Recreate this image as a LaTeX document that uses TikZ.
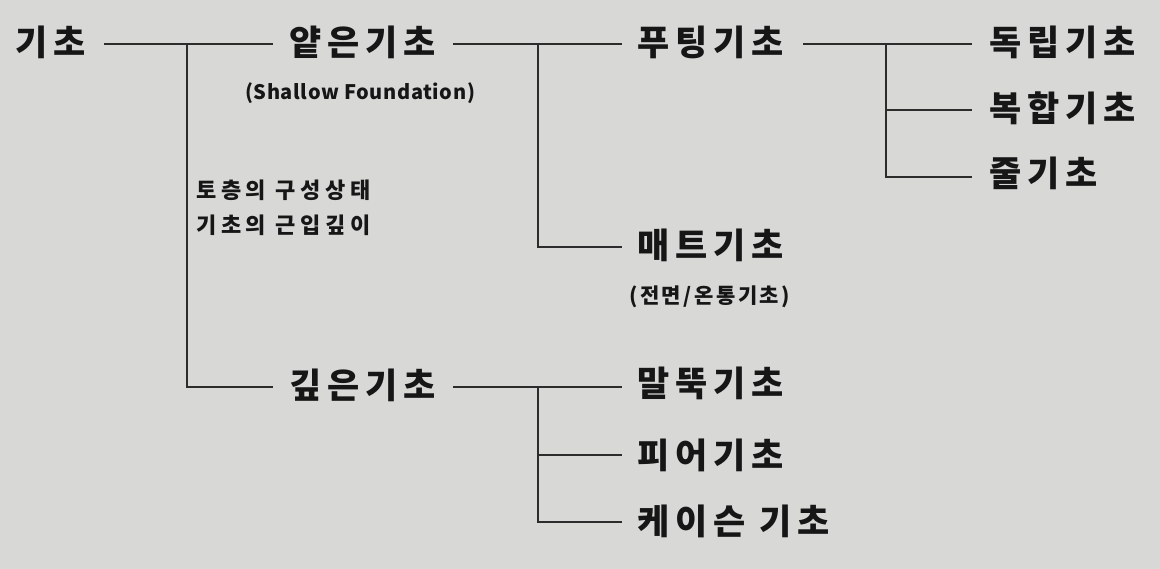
\documentclass[tikz,border=0pt]{standalone}
\usepackage{fontspec}
\setmainfont{Noto Sans CJK KR}
\newfontfamily\krw{Noto Sans CJK KR}[LetterSpace=17]
\newfontfamily\krm{Noto Sans CJK KR}[LetterSpace=21]
\newfontfamily\krn{Noto Sans CJK KR}[LetterSpace=12]
\newfontfamily\krs{Noto Sans CJK KR}[LetterSpace=3]
\definecolor{paper}{HTML}{D8D8D6}
\definecolor{ink}{HTML}{161616}
\definecolor{wire}{HTML}{2C2C2C}
\begin{document}
\begin{tikzpicture}[x=1pt,y=-1pt,
  big/.style={anchor=west,inner sep=0pt,text=ink,font=\krw\fontsize{35}{38}\selectfont\bfseries},
  small/.style={anchor=west,inner sep=0pt,text=ink,font=\krm\fontsize{22}{26}\selectfont\bfseries},
  paren/.style={anchor=west,inner sep=0pt,text=ink,font=\krn\fontsize{21}{25}\selectfont\bfseries},
  latin/.style={anchor=west,inner sep=0pt,text=ink,font=\krs\fontsize{20}{24}\selectfont\bfseries},
  link/.style={draw=wire,line width=2.6pt}]
\fill[paper] (0,0) rectangle (1160,569);
\useasboundingbox (0,0) rectangle (1160,569);
% nodes
\node[big] (root) at (15,42) {기초};
\node[big] (shallow) at (289,42) {얕은기초};
\node[latin] (sfnote) at (245,93) {(Shallow Foundation)};
\node[big] (footing) at (637,42) {푸팅기초};
\node[big] (indep) at (989,42) {독립기초};
\node[big] (comb) at (989,108) {복합기초};
\node[big] (strip) at (989,173) {줄기초};
\node[small] (cond1) at (196,190) {토층의 구성상태};
\node[small] (cond2) at (196,225) {기초의 근입깊이};
\node[big] (mat) at (637,245) {매트기초};
\node[paren] (matnote) at (629,297) {(전면/온통기초)};
\node[big] (deep) at (289,385) {깊은기초};
\node[big] (pile) at (637,383) {말뚝기초};
\node[big] (pier) at (637,455) {피어기초};
\node[big] (caisson) at (637,521) {케이슨 기초};
% junctions
\coordinate (j1) at (187,44);
\coordinate (j2) at (538,44);
\coordinate (j3) at (886,44);
\coordinate (j4) at (538,387);
% connectors
\draw[link] (104,44) -- (273,44);
\draw[link] (j1) -- (187,387) -- (273,387);
\draw[link] (453,44) -- (622,44);
\draw[link] (j2) -- (538,247) -- (622,247);
\draw[link] (803,44) -- (972,44);
\draw[link] (j3) -- (886,177) -- (972,177);
\draw[link] (886,110) -- (972,110);
\draw[link] (453,387) -- (622,387);
\draw[link] (j4) -- (538,522) -- (622,522);
\draw[link] (538,455) -- (622,455);
\end{tikzpicture}
\end{document}
